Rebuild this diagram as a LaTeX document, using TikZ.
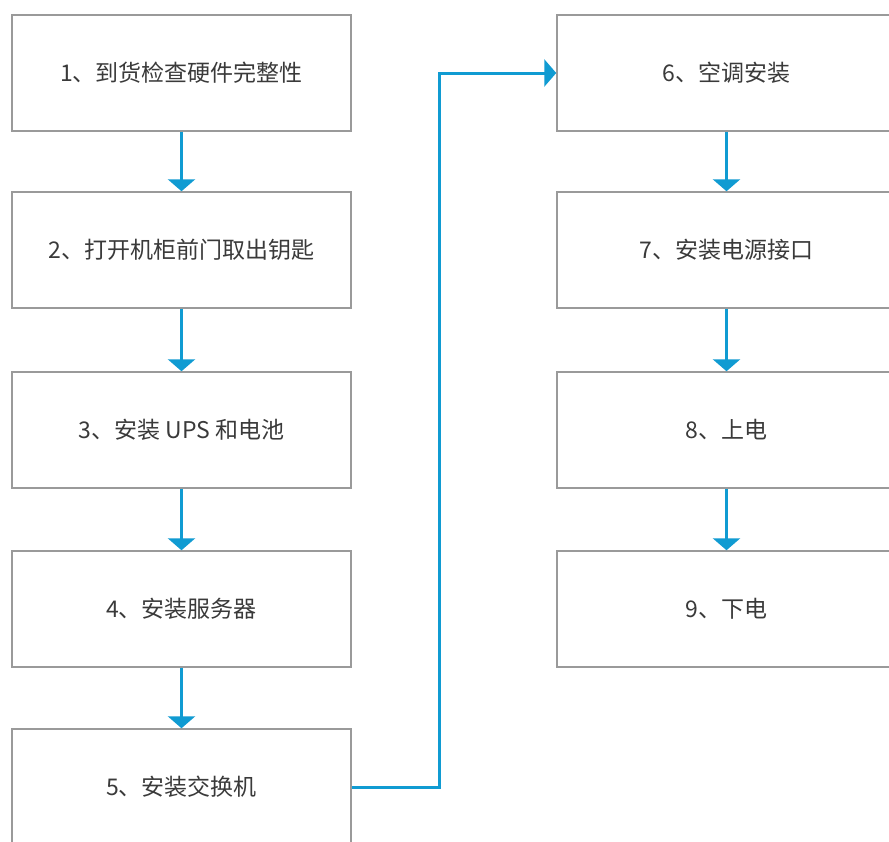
\documentclass[tikz,border=0pt]{standalone}
\usepackage{fontspec}
\setmainfont{Liberation Sans}
\newfontfamily\cjk{Noto Sans CJK SC}
\usetikzlibrary{arrows.meta}
\definecolor{flowblue}{HTML}{109BD2}
\definecolor{boxgray}{HTML}{9A9A9A}
\definecolor{txtgray}{HTML}{3A3A3A}
\tikzset{
  stepbox/.style={draw=boxgray, line width=1.5pt, fill=white, minimum width=339pt, minimum height=116pt, inner sep=0pt, text=txtgray, font=\cjk\fontsize{23pt}{27pt}\selectfont},
  flow/.style={draw=flowblue, line width=3pt, -{Triangle[width=27pt,length=12pt]}}
}
\begin{document}
\begin{tikzpicture}[x=1pt,y=-1pt]
\useasboundingbox (0,0) rectangle (889,841);
\clip (0,0) rectangle (889,841);
\fill[white] (0,0) rectangle (889,841);
\node[stepbox] (b1) at (181.5,73) {1、到货检查硬件完整性};
\node[stepbox] (b2) at (181.5,250) {2、打开机柜前门取出钥匙};
\node[stepbox] (b3) at (181.5,430) {3、安装 UPS 和电池};
\node[stepbox] (b4) at (181.5,609) {4、安装服务器};
\node[stepbox] (b5) at (181.5,787) {5、安装交换机};
\node[stepbox] (b6) at (726.5,73) {6、空调安装};
\node[stepbox] (b7) at (726.5,250) {7、安装电源接口};
\node[stepbox] (b8) at (726.5,430) {8、上电};
\node[stepbox] (b9) at (726.5,609) {9、下电};
\draw[flow] (b1.south) -- (b2.north);
\draw[flow] (b2.south) -- (b3.north);
\draw[flow] (b3.south) -- (b4.north);
\draw[flow] (b4.south) -- (b5.north);
\draw[flow] (b6.south) -- (b7.north);
\draw[flow] (b7.south) -- (b8.north);
\draw[flow] (b8.south) -- (b9.north);
\draw[flow] (b5.east) -- ++(88,0) |- (b6.west);
\end{tikzpicture}
\end{document}
